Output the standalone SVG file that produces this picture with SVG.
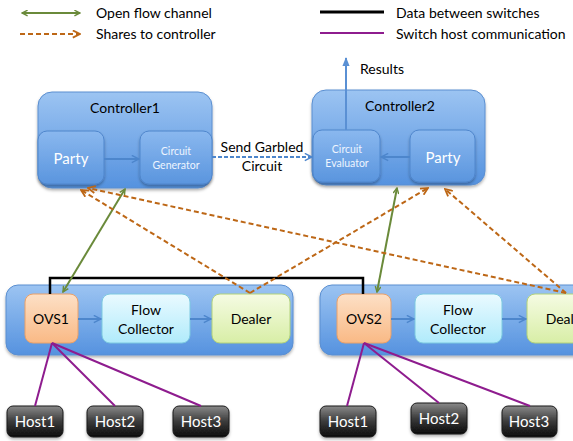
<svg xmlns="http://www.w3.org/2000/svg" width="573" height="441" viewBox="0 0 573 441">
<defs>
  <linearGradient id="gOuter" x1="0" y1="0" x2="0" y2="1">
    <stop offset="0" stop-color="#9cc4f2"/>
    <stop offset="1" stop-color="#5592df"/>
  </linearGradient>
  <linearGradient id="gInner" x1="0" y1="0" x2="0" y2="1">
    <stop offset="0" stop-color="#8ab8ef"/>
    <stop offset="1" stop-color="#5a95de"/>
  </linearGradient>
  <linearGradient id="gOvs" x1="0" y1="0" x2="0" y2="1">
    <stop offset="0" stop-color="#fde0c6"/>
    <stop offset="1" stop-color="#f9b985"/>
  </linearGradient>
  <linearGradient id="gFlow" x1="0" y1="0" x2="0" y2="1">
    <stop offset="0" stop-color="#eafaff"/>
    <stop offset="1" stop-color="#b0ebfb"/>
  </linearGradient>
  <linearGradient id="gDeal" x1="0" y1="0" x2="0" y2="1">
    <stop offset="0" stop-color="#f5fbe3"/>
    <stop offset="1" stop-color="#d8eea6"/>
  </linearGradient>
  <linearGradient id="gHost" x1="0" y1="0" x2="0" y2="1">
    <stop offset="0" stop-color="#8a8a8a"/>
    <stop offset="0.5" stop-color="#3a3a3a"/>
    <stop offset="1" stop-color="#0c0c0c"/>
  </linearGradient>
  <filter id="shadow" x="-10%" y="-10%" width="120%" height="130%">
    <feDropShadow dx="0" dy="2" stdDeviation="1.5" flood-color="#000" flood-opacity="0.3"/>
  </filter>
  <marker id="arrGreen" viewBox="0 0 10 10" refX="9" refY="5" markerWidth="7" markerHeight="7" orient="auto-start-reverse" markerUnits="userSpaceOnUse">
    <path d="M1,1 L9,5 L1,9" fill="none" stroke="#6a8a3a" stroke-width="2"/>
  </marker>
  <marker id="arrOrange" viewBox="0 0 10 10" refX="9" refY="5" markerWidth="9" markerHeight="9" orient="auto" markerUnits="userSpaceOnUse">
    <path d="M1,1 L9,5 L1,9" fill="none" stroke="#bd6716" stroke-width="2"/>
  </marker>
  <marker id="arrBlue" viewBox="0 0 10 10" refX="9" refY="5" markerWidth="9" markerHeight="9" orient="auto" markerUnits="userSpaceOnUse">
    <path d="M1,1 L9,5 L1,9" fill="none" stroke="#4d86cc" stroke-width="1.6"/>
  </marker>
  <marker id="arrResults" viewBox="0 0 10 10" refX="9" refY="5" markerWidth="9" markerHeight="9" orient="auto" markerUnits="userSpaceOnUse">
    <path d="M0,1 L10,5 L0,9 Z" fill="#5a90d4"/>
  </marker>
</defs>
<style>
  text { font-family: Lato, "Open Sans", "Liberation Sans", sans-serif; }
  .lbl { font-size: 14px; fill: #000; }
  .wht { font-size: 15px; fill: #fff; }
  .sm { font-size: 10.5px; fill: #eef5ff; }
  .outer { fill: url(#gOuter); stroke: #5a8ed0; stroke-width: 1; filter: url(#shadow); }
  .inner { fill: url(#gInner); stroke: #4f86cc; stroke-width: 1; filter: url(#shadow); }
  .ovs { fill: url(#gOvs); stroke: #eaa068; stroke-width: 1; }
  .flow { fill: url(#gFlow); stroke: #7cc9e0; stroke-width: 1; }
  .deal { fill: url(#gDeal); stroke: #b2d27a; stroke-width: 1; }
  .host { fill: url(#gHost); stroke: #1a1a1a; stroke-width: 1; filter: url(#shadow); }
  .green { stroke: #6a8a3a; stroke-width: 2; fill: none; }
  .orange { stroke: #bd6716; stroke-width: 2; stroke-dasharray: 5 3; fill: none; }
  .black { stroke: #000; stroke-width: 2.5; fill: none; }
  .purple { stroke: #8e1c8e; stroke-width: 2; fill: none; }
  .inarrow { stroke: #4d86cc; stroke-width: 2; fill: none; }
</style>
<rect width="573" height="441" fill="#fff"/>

<!-- legend -->
<g id="legend">
  <line x1="22" y1="13" x2="80" y2="13" class="green" marker-start="url(#arrGreen)" marker-end="url(#arrGreen)"/>
  <text x="96" y="18" class="lbl">Open flow channel</text>
  <line x1="20" y1="34" x2="80" y2="34" class="orange" marker-end="url(#arrOrange)"/>
  <text x="96" y="39" class="lbl">Shares to controller</text>
  <line x1="320" y1="12" x2="384" y2="12" stroke="#000" stroke-width="3"/>
  <text x="396" y="18" class="lbl">Data between switches</text>
  <line x1="320" y1="33" x2="384" y2="33" stroke="#8e1c8e" stroke-width="2"/>
  <text x="396" y="39" class="lbl">Switch host communication</text>
</g>

<!-- controller 1 -->
<g id="controller1">
  <rect x="38" y="92" width="174" height="96" rx="14" class="outer"/>
  <text x="125" y="113" class="lbl" text-anchor="middle">Controller1</text>
  <rect x="38" y="131" width="66" height="53" rx="9" class="inner"/>
  <text x="71" y="164" class="wht" text-anchor="middle">Party</text>
  <rect x="140" y="131" width="72" height="53" rx="9" class="inner"/>
  <text x="176" y="155" class="sm" text-anchor="middle">Circuit</text>
  <text x="176" y="169" class="sm" text-anchor="middle">Generator</text>
  <line x1="104" y1="159" x2="139" y2="159" class="inarrow" marker-end="url(#arrBlue)"/>
</g>

<!-- controller 2 -->
<g id="controller2">
  <rect x="312" y="90" width="173" height="95" rx="14" class="outer"/>
  <text x="400" y="111" class="lbl" text-anchor="middle">Controller2</text>
  <rect x="313" y="130" width="67" height="52" rx="9" class="inner"/>
  <text x="347" y="153" class="sm" text-anchor="middle">Circuit</text>
  <text x="347" y="167" class="sm" text-anchor="middle">Evaluator</text>
  <rect x="410" y="130" width="65" height="52" rx="9" class="inner"/>
  <text x="443" y="163" class="wht" text-anchor="middle">Party</text>
  <line x1="410" y1="157" x2="381" y2="157" class="inarrow" marker-end="url(#arrBlue)"/>
</g>

<!-- switch 1 -->
<g id="switch1">
  <rect x="6" y="285" width="287" height="70" rx="12" class="outer"/>
  <rect x="25" y="294" width="53" height="49" rx="8" class="ovs"/>
  <text x="51" y="324" class="lbl" text-anchor="middle">OVS1</text>
  <rect x="102" y="294" width="88" height="49" rx="8" class="flow"/>
  <text x="146" y="315" class="lbl" text-anchor="middle">Flow</text>
  <text x="146" y="334" class="lbl" text-anchor="middle">Collector</text>
  <rect x="212" y="294" width="78" height="49" rx="8" class="deal"/>
  <text x="251" y="324" class="lbl" text-anchor="middle">Dealer</text>
  <line x1="78" y1="319" x2="101" y2="319" class="inarrow" marker-end="url(#arrBlue)"/>
  <line x1="190" y1="319" x2="211" y2="319" class="inarrow" marker-end="url(#arrBlue)"/>
</g>

<!-- switch 2 -->
<g id="switch2">
  <rect x="320" y="285" width="287" height="70" rx="12" class="outer"/>
  <rect x="337" y="294" width="54" height="49" rx="8" class="ovs"/>
  <text x="364" y="324" class="lbl" text-anchor="middle">OVS2</text>
  <rect x="415" y="294" width="87" height="49" rx="8" class="flow"/>
  <text x="458" y="315" class="lbl" text-anchor="middle">Flow</text>
  <text x="458" y="334" class="lbl" text-anchor="middle">Collector</text>
  <rect x="527" y="294" width="78" height="49" rx="8" class="deal"/>
  <text x="566" y="324" class="lbl" text-anchor="middle">Dealer</text>
  <line x1="391" y1="319" x2="414" y2="319" class="inarrow" marker-end="url(#arrBlue)"/>
  <line x1="502" y1="319" x2="526" y2="319" class="inarrow" marker-end="url(#arrBlue)"/>
</g>

<!-- hosts -->
<g id="host1a"><rect x="7" y="406" width="56" height="31" rx="6" class="host"/><text x="35" y="427" class="wht" text-anchor="middle">Host1</text></g>
<g id="host2a"><rect x="87" y="406" width="56" height="31" rx="6" class="host"/><text x="115" y="427" class="wht" text-anchor="middle">Host2</text></g>
<g id="host3a"><rect x="173" y="406" width="56" height="31" rx="6" class="host"/><text x="201" y="427" class="wht" text-anchor="middle">Host3</text></g>
<g id="host1b"><rect x="320" y="406" width="56" height="31" rx="6" class="host"/><text x="348" y="427" class="wht" text-anchor="middle">Host1</text></g>
<g id="host2b"><rect x="411" y="403" width="56" height="31" rx="6" class="host"/><text x="439" y="424" class="wht" text-anchor="middle">Host2</text></g>
<g id="host3b"><rect x="502" y="406" width="55" height="31" rx="6" class="host"/><text x="529" y="427" class="wht" text-anchor="middle">Host3</text></g>

<!-- connectors -->
<g id="connectors">
  <!-- garbled circuit transfer -->
  <line x1="212" y1="157" x2="312" y2="157" stroke="#4d86cc" stroke-width="2" stroke-dasharray="4 2" marker-end="url(#arrBlue)"/>
  <text x="262" y="152" class="lbl" text-anchor="middle">Send Garbled</text>
  <text x="262" y="171" class="lbl" text-anchor="middle">Circuit</text>
  <!-- results out of evaluator -->
  <line x1="346" y1="130" x2="346" y2="58" stroke="#5a90d4" stroke-width="2" marker-end="url(#arrResults)"/>
  <text x="360" y="74" class="lbl">Results</text>

  <!-- switch data path -->
  <polyline points="50,294 50,278 363,278 363,294" class="black"/>

  <!-- openflow channels -->
  <line x1="63" y1="292" x2="125" y2="189" class="green" marker-start="url(#arrGreen)" marker-end="url(#arrGreen)"/>
  <line x1="377" y1="292" x2="397" y2="188" class="green" marker-start="url(#arrGreen)" marker-end="url(#arrGreen)"/>

  <!-- shares to controllers -->
  <line x1="250" y1="293" x2="81" y2="190" class="orange" marker-end="url(#arrOrange)"/>
  <line x1="250" y1="293" x2="428" y2="188" class="orange" marker-end="url(#arrOrange)"/>
  <line x1="566" y1="293" x2="88" y2="188" class="orange" marker-end="url(#arrOrange)"/>
  <line x1="566" y1="293" x2="445" y2="189" class="orange" marker-end="url(#arrOrange)"/>

  <!-- host links -->
  <line x1="52" y1="343" x2="35" y2="406" class="purple"/>
  <line x1="52" y1="343" x2="115" y2="406" class="purple"/>
  <line x1="52" y1="343" x2="201" y2="406" class="purple"/>
  <line x1="364" y1="343" x2="347" y2="406" class="purple"/>
  <line x1="364" y1="343" x2="439" y2="403" class="purple"/>
  <line x1="364" y1="343" x2="530" y2="406" class="purple"/>
</g>
</svg>
